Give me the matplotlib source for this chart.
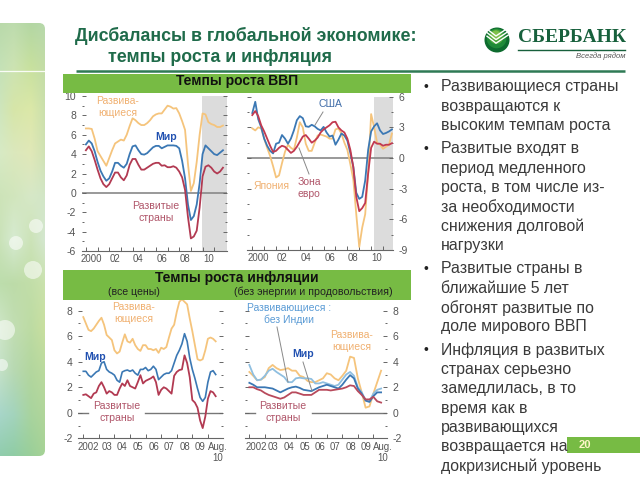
import numpy as np
import matplotlib
matplotlib.use("Agg")
import matplotlib.pyplot as plt
from matplotlib.patches import Rectangle, Circle, FancyBboxPatch

plt.rcParams["font.family"] = ["Liberation Sans", "DejaVu Sans"]
plt.rcParams["axes.unicode_minus"] = False

# GDP growth, quarterly from mid 1999
gdp_dev = [6.65, 6.65, 6.6, 5.6, 4.3, 3.8, 3.3, 2.8, 3.6, 4.4, 5.1, 5.3, 5.5, 5.4, 6.0, 6.9,
           7.7, 7.5, 7.2, 7.0, 7.0, 7.2, 7.5, 7.9, 8.1, 8.2, 8.2, 8.6, 9.0, 8.9, 8.7, 8.75,
           8.2, 7.4, 6.5, 3.0, 0.2, 1.0, 3.2, 6.0, 8.2, 8.1, 7.3, 7.1, 7.0, 6.8, 6.8, 6.95]
gdp_world = [5.0, 5.4, 5.1, 4.3, 3.2, 2.3, 1.7, 1.25, 1.5, 2.2, 3.1, 3.1, 2.8, 2.6, 3.0, 4.0,
             4.8, 4.9, 4.4, 4.0, 3.95, 4.1, 4.4, 4.7, 4.85, 4.85, 4.6, 4.75, 4.9, 4.9, 4.9, 4.85,
             4.6, 3.3, 1.5, -1.2, -2.8, -2.4, -1.2, 1.0, 4.0, 4.9, 4.6, 4.3, 4.0, 3.9, 4.15, 4.4]
gdp_adv = [4.4, 4.8, 4.3, 3.4, 2.4, 1.5, 0.9, 0.6, 0.9, 1.5, 2.1, 2.1, 1.6, 1.3, 1.8, 2.9,
           3.5, 3.5, 2.9, 2.4, 2.4, 2.6, 2.8, 3.0, 3.1, 3.1, 2.8, 2.85, 2.65, 2.65, 2.75, 2.6,
           2.2, 1.6, 0.3, -2.5, -4.7, -4.5, -3.9, -1.5, 1.7, 2.7, 2.85, 2.6, 2.2, 2.0, 2.2, 2.6]
gdp_usa = [4.4, 5.5, 3.8, 3.0, 1.9, 1.2, 0.7, 0.45, 1.4, 1.5, 2.25, 1.9, 1.4, 1.9, 2.7, 3.7,
           4.1, 3.9, 3.1, 3.05, 3.25, 3.1, 2.85, 2.7, 3.05, 2.5, 2.1, 2.2, 1.3, 1.8, 2.4, 2.2,
           1.7, 0.5, -0.85, -3.4, -4.0, -3.8, -2.2, 0.8, 2.6, 3.1, 3.4, 2.7, 2.35, 2.45, 2.6, 2.8]
gdp_euro = [4.2, 4.6, 4.1, 3.2, 2.6, 1.9, 1.2, 0.6, 0.7, 1.0, 1.2, 1.1, 0.8, 0.5, 0.7, 1.1,
            1.6, 2.1, 2.25, 1.9, 1.5, 1.7, 2.0, 2.5, 2.8, 3.0, 3.2, 3.5, 3.55, 3.0, 2.7, 2.5,
            1.9, 0.8, -0.9, -3.8, -5.2, -4.9, -4.4, -1.5, 1.0, 1.6, 1.4, 1.4, 1.2, 1.3, 1.3, 1.45]
gdp_japan = [2.9, 2.7, 3.0, 2.9, 1.9, 1.0, 0.2, -0.8, -1.9, -1.7, -0.5, 0.6, 1.3, 1.0, 0.8, 2.0,
             3.5, 3.0, 1.4, 0.7, 0.7, 1.5, 2.2, 2.3, 2.2, 2.1, 1.9, 1.9, 2.8, 2.9, 2.4, 1.5,
             0.8, -0.6, -2.1, -5.5, -8.7, -6.8, -5.5, -1.5, 4.3, 3.0, 1.5, 1.3, 0.9, 1.1, 1.3, 2.4]

# inflation, all prices, every two months from 2002
cpi_dev = [7.5, 7.0, 6.5, 6.4, 6.6, 6.9, 7.2, 7.45, 6.9, 6.1, 5.9, 5.7, 4.9, 4.65, 4.8, 5.5, 6.15,
           5.6, 5.5, 5.8, 5.3, 5.0, 4.85, 5.3, 5.3, 5.0, 5.0, 4.9, 5.0, 4.7, 5.1, 5.0, 5.15, 5.9,
           6.6, 6.9, 7.9, 8.7, 8.9, 8.7, 8.5, 7.4, 6.4, 5.3, 4.2, 4.1, 4.2, 4.9, 5.8, 5.9, 5.8, 5.6]
cpi_world = [3.25, 3.25, 2.95, 2.8, 3.0, 3.2, 3.3, 3.9, 4.0, 3.4, 3.2, 3.1, 2.95, 2.55, 2.4, 3.2, 3.3,
             3.35, 3.25, 3.35, 3.1, 2.95, 3.4, 3.4, 3.55, 3.3, 3.4, 3.65, 3.4, 2.6, 2.8, 3.0, 3.1, 3.1,
             3.3, 3.9, 4.5, 4.9, 5.4, 6.2, 5.6, 4.3, 3.4, 2.7, 1.9, 1.2, 0.9, 1.2, 2.4, 3.2, 3.3, 3.0]
cpi_adv = [1.4, 1.45, 1.3, 1.15, 1.5, 1.6, 2.1, 2.4, 2.0, 1.5, 1.7, 1.6, 1.4, 1.4, 1.9, 2.3, 2.1,
           2.55, 2.1, 2.0, 1.9, 2.4, 2.95, 2.3, 2.5, 2.6, 2.7, 2.85, 2.4, 1.4, 1.8, 2.0, 1.9, 1.7,
           1.5, 2.9, 3.2, 3.35, 3.4, 4.5, 3.9, 2.8, 1.0, 0.8, 0.4, -0.6, -1.2, -0.3, 1.1, 1.7, 1.6, 1.3]

# core inflation, quarterly from 2002
core_dev = [3.2, 2.9, 2.55, 2.6, 2.8, 3.5, 3.75, 3.5, 3.35, 3.4, 3.5, 3.3, 3.3, 2.9, 2.8, 2.5, 2.4, 2.4,
            2.55, 2.7, 3.1, 3.0, 2.7, 2.55, 2.9, 3.3, 4.4, 4.3, 2.7, 1.6, 0.4, 0.5, 1.5, 2.4, 3.3]
core_exind = [3.75, 3.0, 2.55, 2.6, 2.9, 3.3, 3.45, 3.2, 3.0, 2.8, 2.4, 2.4, 2.7, 2.75, 2.7, 2.7, 2.65, 2.3,
              2.3, 2.4, 2.3, 2.2, 2.1, 2.2, 2.6, 3.0, 3.2, 2.9, 2.0, 1.6, 1.0, 0.9, 1.5, 1.8, 1.9]
core_world = [2.35, 2.2, 2.0, 2.0, 2.0, 1.95, 1.9, 1.75, 1.6, 1.75, 1.9, 2.0, 2.05, 1.95, 1.8, 1.75, 1.7, 1.85,
              2.0, 2.1, 2.2, 2.1, 2.0, 1.9, 2.2, 2.6, 2.95, 2.7, 1.9, 1.5, 0.95, 0.85, 1.3, 1.6, 1.6]
core_adv = [2.0, 2.0, 1.85, 1.75, 1.55, 1.4, 1.3, 1.2, 1.1, 1.2, 1.4, 1.6, 1.6, 1.5, 1.4, 1.4, 1.4, 1.6,
            1.8, 1.8, 1.8, 1.75, 1.8, 1.85, 1.9, 2.0, 2.15, 2.1, 1.7, 1.4, 1.05, 1.05, 1.25, 0.9, 0.8]

gdp_years = ["2000", "02", "04", "06", "08", "10"]
cpi_years = ["2002", "03", "04", "05", "06", "07", "08", "09", "Aug.\n10"]

bullets = [
    ["Развивающиеся страны", "возвращаются к", "высоким темпам роста"],
    ["Развитые входят в", "период медленного", "роста, в том числе из-", "за необходимости",
     "снижения долговой", "нагрузки"],
    ["Развитые страны в", "ближайшие 5 лет", "обгонят развитые по", "доле мирового ВВП"],
    ["Инфляция в развитых", "странах серьезно", "замедлилась, в то", "время как в",
     "развивающихся", "возвращается на", "докризисный уровень"],
]

YEL = "#f5c47c"
BLUE = "#3b78b4"
RED = "#b23a52"
GRAY = "#555555"
W, H = 640, 480

fig = plt.figure(figsize=(6.4, 4.8), dpi=100)


def add_chart(x0, x1, y0, y1, xlim, ylim, side):
    ax = fig.add_axes([x0 / W, 1 - y1 / H, (x1 - x0) / W, (y1 - y0) / H], zorder=2)
    ax.patch.set_alpha(0)
    ax.set_xlim(xlim)
    ax.set_ylim(ylim)
    for s in ["top", "left", "right"]:
        ax.spines[s].set_visible(False)
    ax.spines["bottom"].set_color("#666666")
    ax.tick_params(axis="y", which="major", left=True, right=True, length=3, width=0.7,
                   color="#666666", labelcolor=GRAY, labelsize=7.5, pad=4,
                   labelleft=side == "left", labelright=side == "right", direction="in")
    ax.tick_params(axis="y", which="minor", left=True, right=True, length=1.5, width=0.7,
                   color="#666666", direction="in")
    ax.tick_params(axis="x", which="major", length=0, labelcolor=GRAY, labelsize=6.9, pad=2.5)
    ax.tick_params(axis="x", which="minor", length=3, width=0.7, color="#666666", direction="in")
    return ax


# GDP charts
quarters = 1999.5 + 0.25 * np.arange(len(gdp_dev))
ax1 = add_chart(81.7, 226.7, 96, 251, (1999.14, 2011.57), (-6, 10), "left")
ax1.axvspan(2009.43, 2011.57, color="#dcdcdc", lw=0, zorder=0)
ax1.axhline(0, color="#888888", lw=1.2, zorder=1)
ax1.plot(quarters, gdp_dev, color=YEL, lw=1.3)
ax1.plot(quarters, gdp_world, color=BLUE, lw=1.3)
ax1.plot(quarters, gdp_adv, color=RED, lw=1.3)
ax1.set_yticks(np.arange(-6, 11, 2))
ax1.set_yticks(np.arange(-5, 10, 2), minor=True)
ax1.set_xticks(np.arange(2000, 2011, 2), gdp_years)
ax1.set_xticks(np.arange(1999.5, 2011.5, 1), minor=True)

ax2 = add_chart(247.3, 393, 96.7, 250, (1999.08, 2011.34), (-9, 6), "right")
ax2.axvspan(2009.72, 2011.34, color="#dcdcdc", lw=0, zorder=0)
ax2.axhline(0, color="#888888", lw=1.2, zorder=1)
ax2.plot(quarters, gdp_japan, color=YEL, lw=1.3)
ax2.plot(quarters, gdp_usa, color=BLUE, lw=1.3)
ax2.plot(quarters, gdp_euro, color="#c23a50", lw=1.3)
ax2.set_yticks(np.arange(-9, 7, 3))
ax2.set_yticks(np.arange(-7.5, 6, 3), minor=True)
ax2.set_xticks(np.arange(2000, 2011, 2), gdp_years)
ax2.set_xticks(np.arange(1999.5, 2011.5, 1), minor=True)

# inflation charts
months = 2002 + np.arange(len(cpi_dev)) / 6
ax3 = add_chart(78, 223, 300, 438.3, (2001.66, 2010.97), (-2, 8.84), "left")
ax3.axhline(0, xmin=0, xmax=0.07, color="#777777", lw=1, zorder=1)
ax3.axhline(0, xmin=0.46, xmax=1, color="#777777", lw=1, zorder=1)
ax3.plot(months, cpi_dev, color=YEL, lw=1.3)
ax3.plot(months, cpi_world, color=BLUE, lw=1.2)
ax3.plot(months, cpi_adv, color=RED, lw=1.3)
ax3.set_yticks(np.arange(-2, 9, 2))
ax3.set_yticks(np.arange(-1, 8, 2), minor=True)
ax3.set_xticks([2002.35, 2003.52, 2004.5, 2005.51, 2006.52, 2007.5, 2008.51, 2009.52, 2010.65], cpi_years)
ax3.set_xticks(np.arange(2002, 2011, 1), minor=True)

core_x = 2002 + 0.25 * np.arange(len(core_dev))
ax4 = add_chart(245, 387.3, 300, 438.3, (2001.72, 2010.9), (-2, 8.84), "right")
ax4.axhline(0, xmin=0, xmax=0.07, color="#777777", lw=1, zorder=1)
ax4.axhline(0, xmin=0.47, xmax=1, color="#777777", lw=1, zorder=1)
ax4.plot(core_x, core_dev, color=YEL, lw=1.3)
ax4.plot(core_x, core_exind, color="#8fbfe0", lw=1.3)
ax4.plot(core_x, core_world, color=BLUE, lw=1.3)
ax4.plot(core_x, core_adv, color="#b84a5c", lw=1.3)
ax4.set_yticks(np.arange(-2, 9, 2))
ax4.set_yticks(np.arange(-1, 8, 2), minor=True)
ax4.set_xticks([2002.47, 2003.55, 2004.56, 2005.59, 2006.56, 2007.53, 2008.54, 2009.53, 2010.6], cpi_years)
ax4.set_xticks(np.arange(2002, 2011, 1), minor=True)

# page furniture in pixel coordinates
page = fig.add_axes([0, 0, 1, 1], zorder=3)
page.patch.set_alpha(0)
page.axis("off")

strip_colors = np.array([
    [[.72, .85, .66], [.74, .86, .68], [.70, .84, .64], [.72, .85, .68]],
    [[.76, .88, .72], [.80, .89, .70], [.78, .88, .62], [.76, .86, .66]],
    [[.80, .90, .76], [.84, .90, .66], [.86, .91, .66], [.78, .87, .68]],
    [[.84, .92, .78], [.86, .91, .74], [.88, .91, .72], [.80, .88, .70]],
    [[.80, .89, .72], [.82, .90, .74], [.84, .91, .78], [.82, .90, .78]],
    [[.78, .88, .70], [.84, .92, .82], [.80, .89, .72], [.84, .91, .84]],
    [[.74, .87, .68], [.74, .86, .66], [.76, .87, .66], [.80, .89, .68]],
    [[.82, .91, .80], [.76, .87, .70], [.74, .86, .64], [.80, .88, .62]],
    [[.78, .89, .80], [.72, .85, .70], [.70, .84, .62], [.74, .86, .62]],
    [[.66, .84, .80], [.64, .83, .74], [.66, .83, .62], [.70, .84, .60]],
    [[.56, .80, .68], [.56, .80, .64], [.60, .81, .60], [.66, .83, .58]],
])
# image runs past the clip so its faded edges stay hidden
strip = page.imshow(strip_colors, extent=(-12, 57, 480, 0), aspect="auto", interpolation="bilinear", zorder=0)
clip = FancyBboxPatch((-20, 23), 65, 433, boxstyle="round,pad=0,rounding_size=6",
                      transform=page.transData, fc="none", ec="none")
page.add_patch(clip)
strip.set_clip_path(clip)
for cx, cy, r in [(36, 226, 7), (16, 243, 7), (33, 270, 9), (5, 330, 10), (2, 365, 6)]:
    c = Circle((cx, cy), r, fc="white", ec="none", alpha=0.55, zorder=1)
    page.add_patch(c)
    c.set_clip_path(clip)
page.plot([0, 44], [70.5, 70.5], color="white", lw=0.9, alpha=0.9, zorder=1)

page.plot([76, 625], [71, 71], color="#2f7a55", lw=1.8, solid_capstyle="butt")
page.text(75, 36, "Дисбалансы в глобальной экономике:", fontsize=12.8, fontweight="bold",
          color="#1f6b4a", va="center")
page.text(108, 57, "темпы роста и инфляция", fontsize=12.8, fontweight="bold", color="#1f6b4a", va="center")

# logo
for k, col in enumerate(["#0d6b2e", "#1f8a38", "#4aa63c", "#7fc04a"]):
    page.add_patch(Circle((497 - k * 0.4, 40 - k * 1.6), 12.5 - k * 2.6, fc=col, ec="none"))
for dy, col in [(0, "#ffffff"), (3.6, "#ffffff"), (7.2, "#ffffff")]:
    page.plot([487, 496, 508], [29 + dy, 36 + dy, 28 + dy], color=col, lw=1.0)
page.text(518, 37, "СБЕРБАНК", family=["Liberation Serif"], fontsize=14, fontweight="bold",
          color="#17603c", va="center")
page.plot([518, 625], [50, 50], color="#17603c", lw=1)
page.text(625, 56.5, "Всегда рядом", fontsize=5.5, style="italic", color="#555555", ha="right", va="center")

# green header bars
page.add_patch(Rectangle((63, 74), 348, 19, fc="#77bb44", ec="none"))
page.add_patch(Rectangle((63, 270), 348, 30, fc="#77bb44", ec="none"))
page.text(237, 81.5, "Темпы роста ВВП", fontsize=10, fontweight="bold", color="#111111", ha="center", va="center")
page.text(237, 278, "Темпы роста инфляции", fontsize=10, fontweight="bold", color="#111111", ha="center", va="center")
page.text(134, 292, "(все цены)", fontsize=7.6, color="#222222", ha="center", va="center")
page.text(313, 292, "(без энергии и продовольствия)", fontsize=7.7, color="#222222", ha="center", va="center")

# labels inside the charts
ORANGE = "#f0b070"
ROSE = "#b0566a"
SKY = "#5a9bd5"
page.text(118, 107, "Развива-\nющиеся", fontsize=7.5, color=ORANGE, ha="center", va="center", linespacing=1.2)
page.text(166, 137, "Мир", fontsize=7.5, fontweight="bold", color="#2050b0", ha="center", va="center")
page.text(156, 212, "Развитые\nстраны", fontsize=7.6, color=ROSE, ha="center", va="center", linespacing=1.25)
page.text(330, 104, "США", fontsize=7.5, color="#3f6ca8", ha="center", va="center")
page.text(272, 186, "Япония", fontsize=7.5, color=ORANGE, ha="center", va="center")
page.text(309, 188, "Зона\nевро", fontsize=7.5, color=ROSE, ha="center", va="center", linespacing=1.2)
page.plot([323, 315], [112, 125], color="#888888", lw=0.7)
page.plot([299, 309], [148, 174], color="#888888", lw=0.7)
page.text(134, 313, "Развива-\nющиеся", fontsize=7.5, color=ORANGE, ha="center", va="center", linespacing=1.2)
page.text(95, 357, "Мир", fontsize=7.5, fontweight="bold", color="#2050b0", ha="center", va="center")
page.text(117, 412, "Развитые\nстраны", fontsize=7.6, color=ROSE, ha="center", va="center", linespacing=1.25)
page.text(289, 314, "Развивающиеся :\nбез Индии", fontsize=7.5, color=SKY, ha="center", va="center", linespacing=1.2)
page.text(352, 341, "Развива-\nющиеся", fontsize=7.5, color=ORANGE, ha="center", va="center", linespacing=1.2)
page.text(303, 354, "Мир", fontsize=7.5, fontweight="bold", color="#2050b0", ha="center", va="center")
page.text(283, 412, "Развитые\nстраны", fontsize=7.6, color=ROSE, ha="center", va="center", linespacing=1.25)
page.plot([277, 288], [327, 382], color="#888888", lw=0.7)
page.plot([303, 312], [362, 391], color="#888888", lw=0.7)

# bullet list
y = 87
for block in bullets:
    page.text(423, y, "•", fontsize=10, color="#222222", ha="left", va="center")
    for line in block:
        page.text(441, y, line, fontsize=11.4, color="#3a3a3a", ha="left", va="center")
        y += 19.4
    y += 3.6

page.add_patch(Rectangle((567, 437), 73, 16, fc="#77bb44", ec="none"))
page.text(585, 445, "20", fontsize=8, fontweight="bold", color="#fff6c8", ha="center", va="center")

page.set_xlim(0, W)
page.set_ylim(H, 0)

fig.savefig("out.png", dpi=100)
